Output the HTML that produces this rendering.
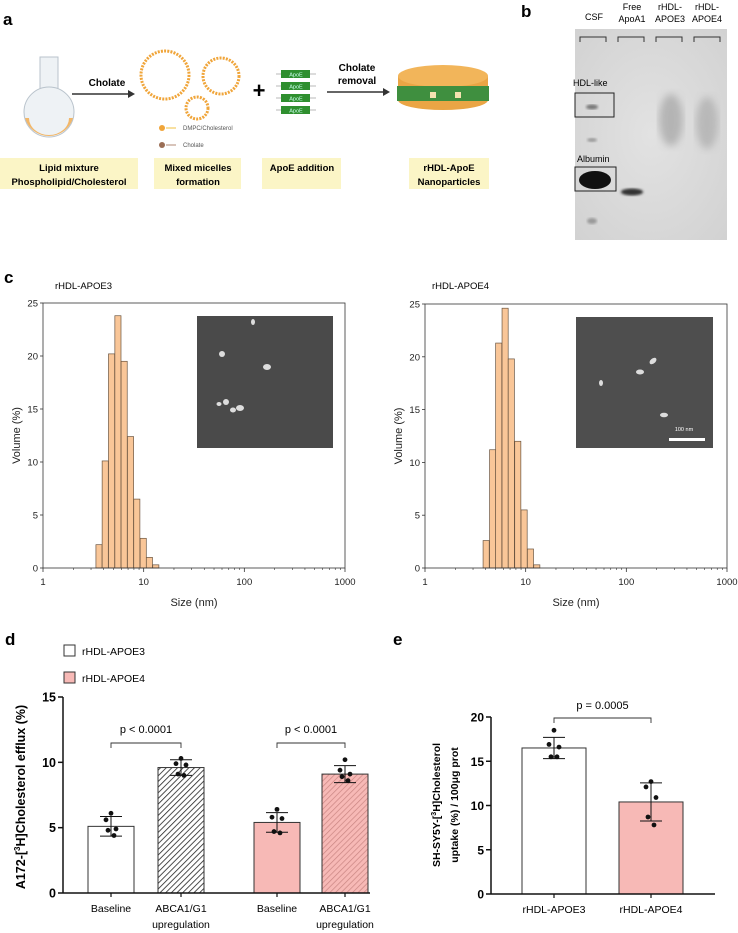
<!DOCTYPE html>
<html><head><meta charset="utf-8"><style>
html,body{margin:0;padding:0;background:#fff;width:738px;height:933px;overflow:hidden}
svg{display:block;font-family:"Liberation Sans",Arial,sans-serif}
</style></head><body>
<svg id="fig" width="738" height="933" viewBox="0 0 738 933">
<defs>
<pattern id="hatchK" patternUnits="userSpaceOnUse" width="4" height="4" patternTransform="rotate(45)"><rect width="4" height="4" fill="#fff"/><line x1="0" y1="0" x2="0" y2="4" stroke="#222" stroke-width="1.6"/></pattern>
<pattern id="hatchP" patternUnits="userSpaceOnUse" width="4" height="4" patternTransform="rotate(45)"><rect width="4" height="4" fill="#f7b9b6"/><line x1="0" y1="0" x2="0" y2="4" stroke="#c98582" stroke-width="1.4"/></pattern>
<radialGradient id="gelg" cx="50%" cy="50%" r="70%"><stop offset="0" stop-color="#e2e2e2"/><stop offset="1" stop-color="#d2d2d2"/></radialGradient>
<filter id="blur3"><feGaussianBlur stdDeviation="4"/></filter>
<filter id="blur1"><feGaussianBlur stdDeviation="1.2"/></filter>
</defs>

<!-- Panel a -->
<g>
<text x="3" y="25" font-size="17" font-weight="bold">a</text>
<g>
<rect x="40" y="57" width="18" height="40" fill="#eef2f5" stroke="#b9c3cc"/>
<circle cx="49" cy="112" r="25" fill="#eef2f5" stroke="#b9c3cc"/>
<path d="M25 118 A25 25 0 0 0 73 118 L69 118 A20 17 0 0 1 29 118 Z" fill="#f2b769"/>
</g>
<text x="107" y="86" font-size="10" font-weight="bold" text-anchor="middle">Cholate</text>
<line x1="72" y1="94" x2="130" y2="94" stroke="#333" stroke-width="1.5"/>
<polygon points="135,94 128,90 128,98" fill="#333"/>
<g fill="none" stroke="#f0a53a" stroke-width="3" stroke-dasharray="2 1.2">
<circle cx="165" cy="75" r="24"/><circle cx="221" cy="76" r="18"/><circle cx="197" cy="108" r="11"/>
</g>
<circle cx="162" cy="128" r="3" fill="#f0a53a"/><line x1="166" y1="128" x2="176" y2="128" stroke="#f0c040"/>
<text x="183" y="130" font-size="6" fill="#555">DMPC/Cholesterol</text>
<circle cx="162" cy="145" r="3" fill="#9b6e55"/><line x1="166" y1="145" x2="176" y2="145" stroke="#b08a75"/>
<text x="183" y="147" font-size="6" fill="#555">Cholate</text>
<text x="259" y="98" font-size="22" font-weight="bold" text-anchor="middle">+</text>
<g>
<g stroke="#777" stroke-width="0.6"><line x1="276" y1="74" x2="316" y2="74"/><line x1="276" y1="86" x2="316" y2="86"/><line x1="276" y1="98" x2="316" y2="98"/><line x1="276" y1="110" x2="316" y2="110"/></g>
<rect x="281" y="70" width="29" height="8" fill="#2f8f2f"/><rect x="281" y="82" width="29" height="8" fill="#2f8f2f"/>
<rect x="281" y="94" width="29" height="8" fill="#2f8f2f"/><rect x="281" y="106" width="29" height="8" fill="#2f8f2f"/>
<text x="296" y="76.5" font-size="5.5" fill="#cfe" text-anchor="middle">ApoE</text><text x="296" y="88.5" font-size="5.5" fill="#cfe" text-anchor="middle">ApoE</text>
<text x="296" y="100.5" font-size="5.5" fill="#cfe" text-anchor="middle">ApoE</text><text x="296" y="112.5" font-size="5.5" fill="#cfe" text-anchor="middle">ApoE</text>
</g>
<text x="357" y="71" font-size="10" font-weight="bold" text-anchor="middle">Cholate</text>
<text x="357" y="84" font-size="10" font-weight="bold" text-anchor="middle">removal</text>
<line x1="327" y1="92" x2="385" y2="92" stroke="#333" stroke-width="1.5"/>
<polygon points="390,92 383,88 383,96" fill="#333"/>
<g>
<rect x="398" y="76" width="90" height="24" fill="#eaa545"/>
<ellipse cx="443" cy="100" rx="45" ry="10" fill="#eaa545"/>
<ellipse cx="443" cy="76" rx="45" ry="11" fill="#f2b55a"/>
<rect x="397" y="86" width="92" height="15" fill="#3f8f3f"/>
<g fill="#f4e2b0"><rect x="430" y="92" width="6" height="6"/><rect x="455" y="92" width="6" height="6"/></g>
</g>
<g font-size="9.5" font-weight="bold" text-anchor="middle">
<rect x="0" y="158" width="138" height="31" fill="#fbf5c6"/><text x="69" y="171">Lipid mixture</text><text x="69" y="185">Phospholipid/Cholesterol</text>
<rect x="154" y="158" width="87" height="31" fill="#fbf5c6"/><text x="198" y="171">Mixed micelles</text><text x="198" y="185">formation</text>
<rect x="262" y="158" width="79" height="31" fill="#fbf5c6"/><text x="302" y="171">ApoE addition</text>
<rect x="409" y="158" width="80" height="31" fill="#fbf5c6"/><text x="449" y="171">rHDL-ApoE</text><text x="449" y="185">Nanoparticles</text>
</g>
</g>

<!-- Panel b -->
<g>
<text x="521" y="17" font-size="17" font-weight="bold">b</text>
<g font-size="9" text-anchor="middle">
<text x="594" y="20">CSF</text><text x="632" y="10">Free</text><text x="632" y="22">ApoA1</text>
<text x="670" y="10">rHDL-</text><text x="670" y="22">APOE3</text><text x="707" y="10">rHDL-</text><text x="707" y="22">APOE4</text>
</g>
<rect x="575" y="29" width="152" height="211" fill="url(#gelg)"/>
<g stroke="#333" fill="none" stroke-width="1">
<path d="M580 42V37H606V42"/><path d="M618 42V37H644V42"/><path d="M656 42V37H682V42"/><path d="M694 42V37H720V42"/>
</g>
<ellipse cx="671" cy="120" rx="12" ry="26" fill="#aaa" filter="url(#blur3)" opacity=".8"/>
<ellipse cx="707" cy="123" rx="11" ry="26" fill="#b0b0b0" filter="url(#blur3)" opacity=".8"/>
<ellipse cx="592" cy="107" rx="6" ry="2.5" fill="#777" filter="url(#blur1)"/>
<ellipse cx="592" cy="140" rx="5" ry="2" fill="#999" filter="url(#blur1)"/>
<ellipse cx="592" cy="221" rx="5" ry="3" fill="#999" filter="url(#blur1)"/>
<ellipse cx="595" cy="180" rx="16" ry="9" fill="#111"/>
<ellipse cx="632" cy="192" rx="11" ry="3.5" fill="#333" filter="url(#blur1)"/>
<rect x="575" y="93" width="39" height="24" fill="none" stroke="#222"/>
<rect x="575" y="167" width="41" height="24" fill="none" stroke="#222"/>
<text x="573" y="86" font-size="9">HDL-like</text>
<text x="577" y="162" font-size="9">Albumin</text>
</g>

<text x="4" y="283" font-size="17" font-weight="bold">c</text>
<text x="55" y="289" font-size="9.5">rHDL-APOE3</text>
<text x="432" y="289" font-size="9.5">rHDL-APOE4</text>
<rect x="197" y="316" width="136" height="132" fill="#4a4a4a"/>
<rect x="576" y="317" width="137" height="131" fill="#4e4e4e"/>
<g fill="#ddd">
<ellipse cx="267" cy="367" rx="4" ry="3"/><ellipse cx="240" cy="408" rx="4" ry="3"/><ellipse cx="226" cy="402" rx="3" ry="3"/><ellipse cx="233" cy="410" rx="3" ry="2.5"/><ellipse cx="219" cy="404" rx="2.5" ry="2"/><ellipse cx="222" cy="354" rx="3" ry="3"/><ellipse cx="253" cy="322" rx="2" ry="3"/>
<ellipse cx="653" cy="361" rx="4" ry="2.5" transform="rotate(-40 653 361)"/><ellipse cx="640" cy="372" rx="4" ry="2.5"/><ellipse cx="664" cy="415" rx="4" ry="2.3"/><ellipse cx="601" cy="383" rx="2" ry="3"/>
</g>
<rect x="669" y="438" width="36" height="3" fill="#fff"/>
<text x="684" y="431" font-size="5.5" fill="#fff" text-anchor="middle">100 nm</text>

<g id="cL"></g>
<g id="cR"></g>

<!-- Panel d -->
<text x="5" y="645" font-size="17" font-weight="bold">d</text>
<rect x="64" y="645" width="11" height="11" fill="#fff" stroke="#333"/>
<text x="82" y="655" font-size="10.5">rHDL-APOE3</text>
<rect x="64" y="672" width="11" height="11" fill="#f7b9b6" stroke="#333"/>
<text x="82" y="682" font-size="10.5">rHDL-APOE4</text>
<text transform="translate(25,797) rotate(-90)" font-size="12.5" font-weight="bold" text-anchor="middle">A172-[<tspan font-size="8" dy="-5">3</tspan><tspan dy="5">H]Cholesterol efflux (%)</tspan></text>
<g id="dChart"></g>

<!-- Panel e -->
<text x="393" y="645" font-size="17" font-weight="bold">e</text>
<text transform="translate(440,805) rotate(-90)" font-size="10.5" font-weight="bold" text-anchor="middle">SH-SY5Y-[<tspan font-size="7" dy="-4">3</tspan><tspan dy="4">H]Cholesterol</tspan></text>
<text transform="translate(458,805) rotate(-90)" font-size="10.5" font-weight="bold" text-anchor="middle">uptake (%) / 100μg prot</text>
<g id="eChart"></g>
</svg>
<script>
// Panel c data
const c3Sizes = [3.6, 4.15, 4.8, 5.55, 6.4, 7.4, 8.55, 9.9, 11.4, 13.2];
const c3Volume = [2.2, 10.1, 20.2, 23.8, 19.5, 12.4, 6.5, 2.8, 1.0, 0.3];
const c4Sizes = [4.05, 4.7, 5.4, 6.25, 7.2, 8.35, 9.65, 11.15, 12.9];
const c4Volume = [2.6, 11.2, 21.3, 24.6, 19.8, 12.0, 5.5, 1.8, 0.3];
const cYTicks = [0, 5, 10, 15, 20, 25];
const cXTicks = [1, 10, 100, 1000];
// Panel d data
const dCategories = ['Baseline', 'ABCA1/G1', 'Baseline', 'ABCA1/G1'];
const dMeans = [5.1, 9.6, 5.4, 9.1];
const dSD = [0.75, 0.6, 0.75, 0.65];
const dPoints = [[6.1,5.6,4.9,4.8,4.4],[10.3,9.9,9.8,9.1,9.0],[6.4,5.8,5.7,4.7,4.6],[10.2,9.4,9.1,8.9,8.6]];
const dYTicks = [0, 5, 10, 15];
const dPLabel = ['p < 0.0001', 'p < 0.0001'];
// Panel e data
const eCategories = ['rHDL-APOE3', 'rHDL-APOE4'];
const eMeans = [16.5, 10.4];
const eSD = [1.2, 2.15];
const ePoints = [[18.5,16.9,16.6,15.5,15.5],[12.7,12.1,10.9,8.7,7.8]];
const eYTicks = [0, 5, 10, 15, 20];
const ePLabel = 'p = 0.0005';

const NS = 'http://www.w3.org/2000/svg';
function mk(parent, tag, attrs, text){
  const e = document.createElementNS(NS, tag);
  for (const k in attrs) e.setAttribute(k, attrs[k]);
  if (text !== undefined) e.textContent = text;
  parent.appendChild(e); return e;
}

function hist(gid, sizes, vols, x0, x1, y0, y1){
  const g = document.getElementById(gid);
  const X = v => x0 + (Math.log10(v)) / 3 * (x1 - x0);
  const Y = v => y1 - v / 25 * (y1 - y0);
  const halfW = 0.0305;
  sizes.forEach((s, i) => {
    const xa = x0 + (Math.log10(s) - halfW) / 3 * (x1 - x0);
    const xb = x0 + (Math.log10(s) + halfW) / 3 * (x1 - x0);
    const r = mk(g, 'rect', {x: xa, y: Y(vols[i]), width: xb - xa, height: Y(0) - Y(vols[i]), fill: '#f9c698', stroke: '#6b5540', 'stroke-width': 0.7});
    
    
  });
  mk(g, 'rect', {x: x0, y: y0, width: x1 - x0, height: y1 - y0, fill: 'none', stroke: '#333', 'stroke-width': 0.8});
  cYTicks.forEach(t => {
    mk(g, 'line', {x1: x0 - 3, x2: x0, y1: Y(t), y2: Y(t), stroke: '#333', 'stroke-width': 0.8});
    mk(g, 'text', {x: x0 - 5, y: Y(t) + 3.5, 'font-size': 9.5, 'text-anchor': 'end', fill: '#222'}, String(t));
  });
  for (let d = 0; d < 3; d++) for (let m = 2; m <= 9; m++) {
    const xx = X(Math.pow(10, d) * m);
    mk(g, 'line', {x1: xx, x2: xx, y1: y1, y2: y1 + 2, stroke: '#333', 'stroke-width': 0.6});
  }
  cXTicks.forEach(t => {
    mk(g, 'line', {x1: X(t), x2: X(t), y1: y1, y2: y1 + 4, stroke: '#333', 'stroke-width': 0.8});
    mk(g, 'text', {x: X(t), y: y1 + 17, 'font-size': 9.5, 'text-anchor': 'middle', fill: '#222'}, String(t));
  });
  const xt = mk(g, 'text', {x: (x0 + x1) / 2, y: y1 + 38, 'font-size': 11, 'text-anchor': 'middle', fill: '#222'}, 'Size (nm)');
  
  
  const yt = mk(g, 'text', {transform: `translate(${x0 - 23},${(y0 + y1) / 2}) rotate(-90)`, 'font-size': 11, 'text-anchor': 'middle', fill: '#222'}, 'Volume (%)');
  
  
}
hist('cL', c3Sizes, c3Volume, 43, 345, 303, 568);
hist('cR', c4Sizes, c4Volume, 425, 727, 304, 568);

function dots(g, cx, Y, pts){
  pts.forEach((p, j) => {
    const off = [0, -5, 5, -3, 3][j % 5];
    const c = mk(g, 'circle', {cx: cx + off, cy: Y(p), r: 2.4, fill: '#111'});
    
    
  });
}
function errbar(g, cx, Y, m, s){
  mk(g, 'line', {x1: cx, x2: cx, y1: Y(m - s), y2: Y(m + s), stroke: '#111', 'stroke-width': 1});
  mk(g, 'line', {x1: cx - 11, x2: cx + 11, y1: Y(m + s), y2: Y(m + s), stroke: '#111', 'stroke-width': 1});
  mk(g, 'line', {x1: cx - 11, x2: cx + 11, y1: Y(m - s), y2: Y(m - s), stroke: '#111', 'stroke-width': 1});
}

// Panel d
(function(){
  const g = document.getElementById('dChart');
  const x0 = 63, y0 = 893, ymax = 15, ytop = 697;
  const Y = v => y0 - v / ymax * (y0 - ytop);
  const centers = [111, 181, 277, 345];
  const fills = ['#fff', 'url(#hatchK)', '#f7b9b6', 'url(#hatchP)'];
  dMeans.forEach((m, i) => {
    const r = mk(g, 'rect', {x: centers[i] - 23, y: Y(m), width: 46, height: Y(0) - Y(m), fill: fills[i], stroke: '#333', 'stroke-width': 1});
    
    
    errbar(g, centers[i], Y, m, dSD[i]);
    dots(g, centers[i], Y, dPoints[i]);
    mk(g, 'line', {x1: centers[i], x2: centers[i], y1: y0, y2: y0 + 4, stroke: '#111', 'stroke-width': 1.2});
    mk(g, 'text', {x: centers[i], y: y0 + 19, 'font-size': 10.5, 'text-anchor': 'middle'}, dCategories[i]);
    if (i % 2 === 1) mk(g, 'text', {x: centers[i], y: y0 + 35, 'font-size': 10.5, 'text-anchor': 'middle'}, 'upregulation');
  });
  mk(g, 'line', {x1: x0, x2: x0, y1: ytop, y2: y0, stroke: '#111', 'stroke-width': 1.5});
  mk(g, 'line', {x1: x0, x2: 370, y1: y0, y2: y0, stroke: '#111', 'stroke-width': 1.5});
  dYTicks.forEach(t => {
    mk(g, 'line', {x1: x0 - 5, x2: x0, y1: Y(t), y2: Y(t), stroke: '#111', 'stroke-width': 1.5});
    mk(g, 'text', {x: x0 - 7, y: Y(t) + 4.5, 'font-size': 12.5, 'font-weight': 'bold', 'text-anchor': 'end'}, String(t));
  });
  [[0, 1], [2, 3]].forEach((pair, k) => {
    const a = centers[pair[0]], b = centers[pair[1]], yy = 743;
    mk(g, 'path', {d: `M${a} ${yy + 5}V${yy}H${b}V${yy + 5}`, fill: 'none', stroke: '#333', 'stroke-width': 0.9});
    const t = mk(g, 'text', {x: (a + b) / 2, y: yy - 10, 'font-size': 11, 'text-anchor': 'middle'}, dPLabel[k]);
    
    
  });
})();

// Panel e
(function(){
  const g = document.getElementById('eChart');
  const x0 = 491, y0 = 894, ymax = 20, ytop = 717;
  const Y = v => y0 - v / ymax * (y0 - ytop);
  const centers = [554, 651];
  const fills = ['#fff', '#f7b9b6'];
  eMeans.forEach((m, i) => {
    const r = mk(g, 'rect', {x: centers[i] - 32, y: Y(m), width: 64, height: Y(0) - Y(m), fill: fills[i], stroke: '#333', 'stroke-width': 1});
    
    
    errbar(g, centers[i], Y, m, eSD[i]);
    dots(g, centers[i], Y, ePoints[i]);
    mk(g, 'line', {x1: centers[i], x2: centers[i], y1: y0, y2: y0 + 4, stroke: '#111', 'stroke-width': 1.2});
    mk(g, 'text', {x: centers[i], y: y0 + 19, 'font-size': 10.5, 'text-anchor': 'middle'}, eCategories[i]);
  });
  mk(g, 'line', {x1: x0, x2: x0, y1: ytop, y2: y0, stroke: '#111', 'stroke-width': 1.5});
  mk(g, 'line', {x1: x0, x2: 715, y1: y0, y2: y0, stroke: '#111', 'stroke-width': 1.5});
  eYTicks.forEach(t => {
    mk(g, 'line', {x1: x0 - 5, x2: x0, y1: Y(t), y2: Y(t), stroke: '#111', 'stroke-width': 1.5});
    mk(g, 'text', {x: x0 - 7, y: Y(t) + 4.5, 'font-size': 12, 'font-weight': 'bold', 'text-anchor': 'end'}, String(t));
  });
  const a = centers[0], b = centers[1], yy = 718;
  mk(g, 'path', {d: `M${a} ${yy + 5}V${yy}H${b}V${yy + 5}`, fill: 'none', stroke: '#333', 'stroke-width': 0.9});
  const t = mk(g, 'text', {x: (a + b) / 2, y: yy - 9, 'font-size': 11, 'text-anchor': 'middle'}, ePLabel);
  
  
})();
</script>
</body></html>
